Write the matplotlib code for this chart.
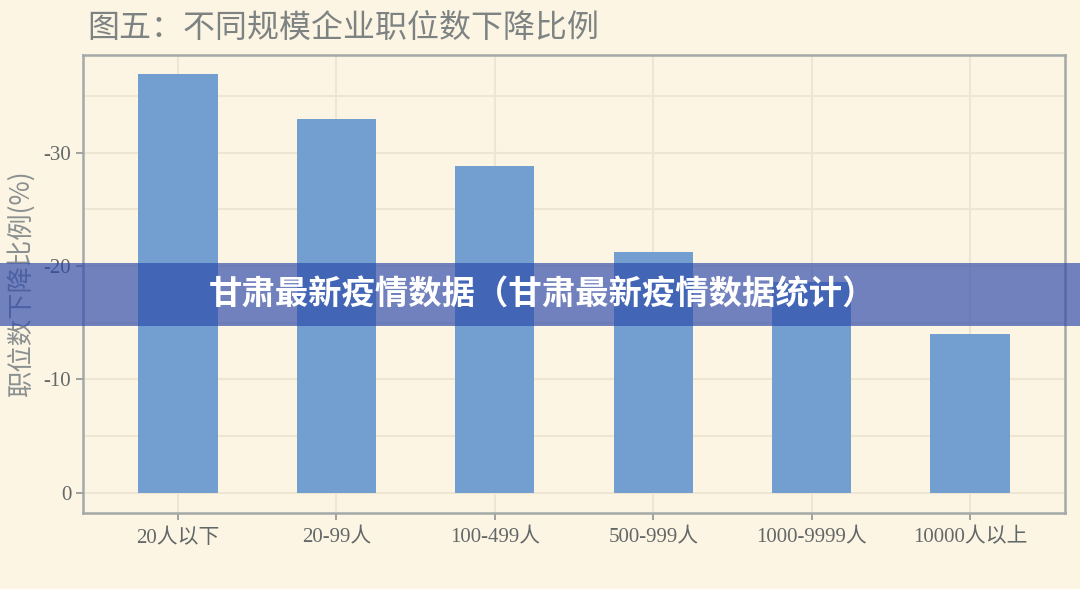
import matplotlib
matplotlib.use("Agg")
import matplotlib.pyplot as plt
from matplotlib.patches import Rectangle

categories = ["20人以下", "20-99人", "100-499人", "500-999人", "1000-9999人", "10000人以上"]
values = [-36.9, -33.0, -28.8, -21.2, -18.6, -14.0]
yticks = [0, -10, -20, -30]
title = "图五：不同规模企业职位数下降比例"
ylabel = "职位数下降比例(%)"
banner = "甘肃最新疫情数据（甘肃最新疫情数据统计）"

plt.rcParams["font.family"] = ["Liberation Serif", "Noto Sans CJK SC", "DejaVu Sans"]

bg = "#fdf5e4"
grid_c = "#eee6d2"
text_c = "#626767"

fig = plt.figure(figsize=(10.8, 5.89), dpi=100, facecolor=bg)
ax = fig.add_axes([0.0769, 0.129, 0.9093, 0.7776], facecolor=bg)

x = range(len(categories))
ax.bar(x, values, width=0.5, color="#729fcf", zorder=3)

ax.set_xlim(-0.6, 5.6)
ax.set_ylim(1.77, -38.6)
ax.set_xticks(list(x))
ax.set_xticklabels(categories, fontsize=15, color=text_c)
ax.set_yticks(yticks)
ax.set_yticklabels([str(t) for t in yticks], fontsize=15, color=text_c)
ax.set_yticks([-5, -15, -25, -35], minor=True)
ax.tick_params(axis="y", which="minor", length=0)
ax.tick_params(axis="both", which="major", length=5, color="#8f9494", width=1.2)
ax.tick_params(axis="x", pad=6)
ax.grid(True, which="both", color=grid_c, linewidth=1.5, zorder=0)
ax.grid(False, which="minor", axis="x")
for s in ax.spines.values():
    s.set_color("#a3a8a8")
    s.set_linewidth(1.8)

ax.set_ylabel(ylabel, fontsize=19, color="#8a9090", labelpad=6,
              family=["Noto Sans CJK SC", "DejaVu Sans"])
fig.text(0.081, 0.953, title, fontsize=23, color="#7d8282", va="center", ha="left",
         family=["Noto Sans CJK SC", "DejaVu Sans"])

# overlay banner
fig.patches.append(Rectangle((0, 1 - 326 / 589), 1, 63 / 589, transform=fig.transFigure,
                             facecolor="#2d49ab", alpha=0.67, edgecolor="none", zorder=10))
fig.text(0.502, 1 - 295 / 589, banner, fontsize=24, color="white", weight="heavy",
         ha="center", va="center", zorder=11, family=["Noto Sans CJK SC", "DejaVu Sans"])

fig.savefig("out.png", dpi=100, facecolor=bg)
